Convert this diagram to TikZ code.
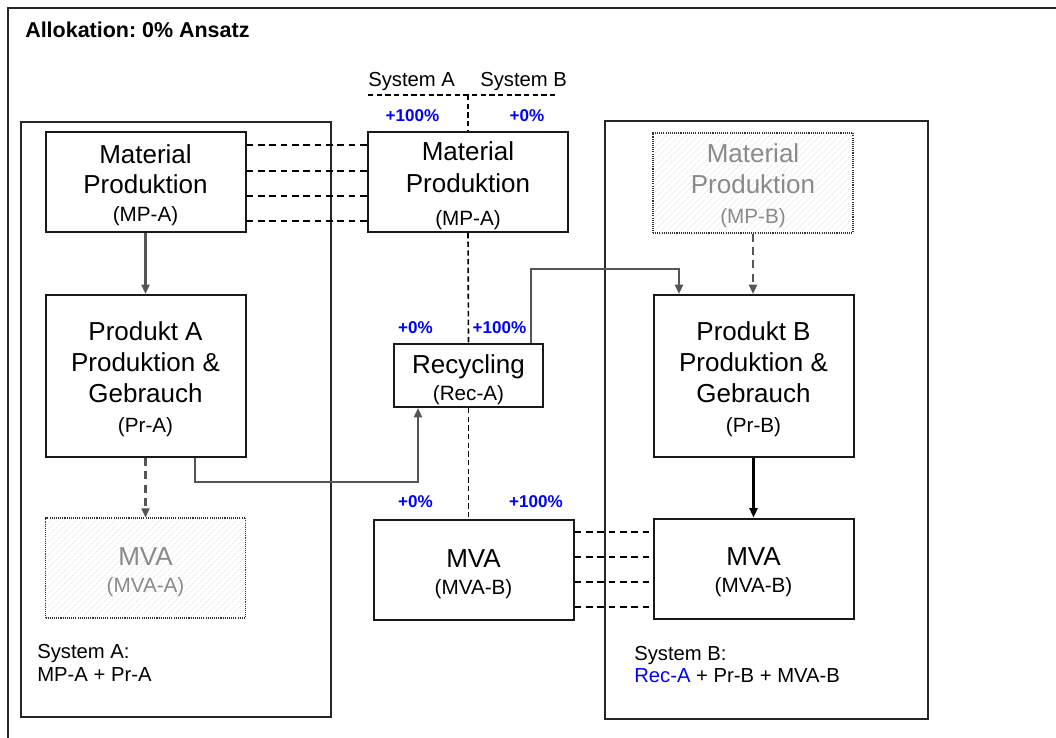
\documentclass[tikz,border=0pt]{standalone}
\usepackage{fontspec}
\setmainfont{Liberation Sans}
\usetikzlibrary{arrows.meta,calc,patterns.meta}
\definecolor{arrowgray}{HTML}{555555}
\definecolor{pctblue}{HTML}{0000FF}
\definecolor{ghosttext}{HTML}{8A8A8A}
\frenchspacing
\newcommand\tagline[1]{{\fontsize{15.5pt}{18pt}\selectfont #1}}
% strut that sets the height of the first text line in a box
\newcommand\firstline[1]{\rule{0pt}{#1}}

\begin{document}
\begin{tikzpicture}[x=0.75pt,y=-0.75pt,
  box/.style={draw=black!90, line width=1.5pt, align=center, inner sep=0pt,
    font=\fontsize{19.5pt}{23.5pt}\selectfont},
  stdbox/.style={box, minimum width=150pt, minimum height=75pt},
  tallbox/.style={box, minimum width=150pt, minimum height=121.5pt},
  ghost/.style={draw=black!80, line width=0.9pt, dash pattern=on 0.8pt off 0.8pt,
    pattern={Lines[angle=45,distance=3.4pt,line width=0.6pt]}, pattern color=gray!22,
    text=ghosttext},
  sysbox/.style={draw=black!85, line width=1.1pt},
  link/.style={line width=1.3pt, dash pattern=on 5pt off 3.5pt},
  divider/.style={line width=1.2pt, dash pattern=on 4pt off 2.5pt},
  flow/.style={draw=arrowgray, line width=1.6pt, -{Triangle[length=7pt,width=6pt]}},
  dflow/.style={flow, dash pattern=on 6pt off 4pt},
  pct/.style={font=\bfseries\fontsize{12.8pt}{15pt}\selectfont, text=pctblue, inner sep=0pt, anchor=base},
  lbl/.style={font=\fontsize{15.2pt}{18pt}\selectfont, inner sep=0pt, anchor=base west},
]
\useasboundingbox (0,0) rectangle (1056,738);

% outer frame (continues past the page edge on the right and bottom)
\draw[line width=1.3pt, black!85] (8,738) -- (8,8) -- (1056,8);
\node[font=\bfseries\fontsize{16.1pt}{18pt}\selectfont, inner sep=0pt, anchor=base west]
  (title) at (25,38) {Allokation: 0\% Ansatz};

% system boundaries
\draw[sysbox] (21,122) rectangle (331,717);
\draw[sysbox] (605,121) rectangle (928,719);

% processes of system A
\node[stdbox] (mpa) at (145.5,182)
  {\firstline{19.7pt}Material\\[-1pt]Produktion\\[-2.5pt]\tagline{(MP-A)}};
\node[tallbox] (pra) at (145.5,376)
  {\firstline{19pt}Produkt A\\Produktion \&\\Gebrauch\\[-1pt]\tagline{(Pr-A)}};
\node[stdbox, ghost] (mvaa) at (145.5,568)
  {\firstline{19pt}MVA\\[-3.25pt]\tagline{(MVA-A)}};

% shared processes in the middle
\node[stdbox] (mpm) at (468,182)
  {\firstline{19pt}Material\\[0.5pt]Produktion\\[1.25pt]\tagline{(MP-A)}};
\node[box, minimum width=111.75pt, minimum height=47.25pt] (rec) at (468.5,375.5)
  {\firstline{20.3pt}Recycling\\[-2.7pt]\tagline{(Rec-A)}};
\node[stdbox] (mvm) at (473.5,570)
  {\firstline{19pt}MVA\\[-3.25pt]\tagline{(MVA-B)}};

% processes of system B
\node[stdbox, ghost] (mpb) at (753,183)
  {\firstline{17.5pt}Material\\[-0.25pt]Produktion\\[-1pt]\tagline{(MP-B)}};
\node[tallbox] (prb) at (753.5,376)
  {\firstline{19pt}Produkt B\\Produktion \&\\Gebrauch\\[-1pt]\tagline{(Pr-B)}};
\node[stdbox] (mvb) at (753.5,568.5)
  {\firstline{19pt}MVA\\[-3.25pt]\tagline{(MVA-B)}};

% split line between system A and system B
\coordinate (splitL) at (368,95);
\coordinate (splitR) at (557,95);
\coordinate (splitM) at (468,95);
\draw[divider] (splitL) -- (splitR);
\draw[divider] (splitM) -- (splitM |- mpm.north);
\draw[divider] (mpm.south) -- (rec.north);
\draw[divider] (rec.south) -- (rec.south |- mvm.north);
\node[lbl] (sysAhead) at (368,87) {System A};
\node[lbl] (sysBhead) at (480,87) {System B};

% allocation shares
\node[pct] (pMPa) at (412.5,121.7) {+100\%};
\node[pct] (pMPb) at (527,121.7) {+0\%};
\node[pct] (pReca) at (415.5,333.3) {+0\%};
\node[pct] (pRecb) at (499.5,333.3) {+100\%};
\node[pct] (pMVAa) at (415.5,507.7) {+0\%};
\node[pct] (pMVAb) at (536,507.7) {+100\%};

% identity links
\foreach \f in {0.14,0.39,0.64,0.88}
  \draw[link] ($(mpa.north east)!\f!(mpa.south east)$) coordinate (lk)
    -- (lk -| mpm.west);
\foreach \f in {0.13,0.37,0.62,0.86}
  \draw[link] ($(mvm.north east)!\f!(mvm.south east)$) coordinate (lk)
    -- (lk -| mvb.west);

% material flows
\draw[flow] (mpa.south) -- (pra.north);
\draw[dflow] (pra.south) -- (mvaa.north);
\draw[flow] ($(pra.south)+(49.5,0)$) -- ++(0,24) -| ($(rec.south)+(-50.5,0)$);
\draw[flow] ($(rec.north)+(62.5,0)$) -- ++(0,-74) -| ($(prb.north)+(-74.5,0)$);
\draw[dflow] (mpb.south) -- (mpb.south |- prb.north);
\draw[flow, draw=black] (prb.south) -- (prb.south |- mvb.north);

% system summaries
\node[lbl] (sumA1) at (37,658.3) {System A:};
\node[lbl] (sumA2) at (37,681.7) {MP-A + Pr-A};
\node[lbl] (sumB1) at (634,660.5) {System B:};
\node[lbl] (sumB2) at (634,682.7) {\textcolor{pctblue}{Rec-A} + Pr-B + MVA-B};
\end{tikzpicture}
\end{document}
